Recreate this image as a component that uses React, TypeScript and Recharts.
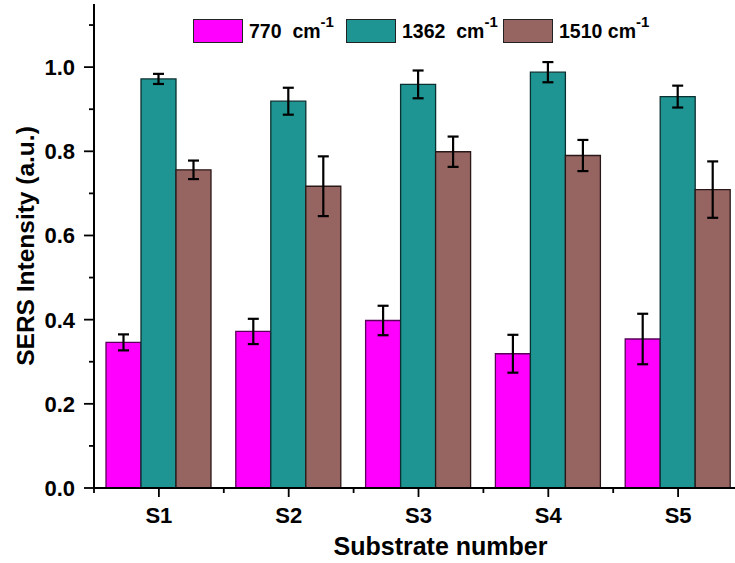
import React from 'react';
import { BarChart, Bar, XAxis, YAxis, ErrorBar, Legend } from 'recharts';

// values
const substrates = ['S1', 'S2', 'S3', 'S4', 'S5'];
const band770 = [0.346, 0.372, 0.398, 0.319, 0.354];
const err770 = [0.019, 0.03, 0.035, 0.045, 0.06];
const band1362 = [0.972, 0.919, 0.959, 0.988, 0.93];
const err1362 = [0.012, 0.032, 0.033, 0.024, 0.026];
const band1510 = [0.756, 0.717, 0.799, 0.79, 0.709];
const err1510 = [0.022, 0.071, 0.036, 0.037, 0.067];
const yTicks = [0, 0.1, 0.2, 0.3, 0.4, 0.5, 0.6, 0.7, 0.8, 0.9, 1.0, 1.1];

const FONT = '"Liberation Sans", Arial, Helvetica, sans-serif';

const series = [
  { key: 'b770', err: 'e770', label: '770', space: '  ', fill: '#ff00ff', stroke: '#5a005a', w: 153 },
  { key: 'b1362', err: 'e1362', label: '1362', space: '  ', fill: '#1e9592', stroke: '#0b3030', w: 157 },
  { key: 'b1510', err: 'e1510', label: '1510', space: ' ', fill: '#966461', stroke: '#2a1818', w: 160 },
];

const data = substrates.map((name, i) => ({
  name,
  b770: band770[i],
  e770: err770[i],
  b1362: band1362[i],
  e1362: err1362[i],
  b1510: band1510[i],
  e1510: err1510[i],
}));

const YTick = (props: any) => {
  const { x, y, payload } = props;
  const v = payload.value;
  const major = Math.round(v * 10) % 2 === 0;
  return (
    <g>
      <line x1={x} x2={x - (major ? 10 : 5)} y1={y} y2={y} stroke="#000" strokeWidth={1.8} />
      {major && (
        <text x={x - 19} y={y} dy="0.36em" textAnchor="end" fontFamily={FONT} fontWeight="bold" fontSize={22} fill="#000">
          {v.toFixed(1)}
        </text>
      )}
    </g>
  );
};

const XTick = (props: any) => {
  const { x, y, payload } = props;
  const half = payload.offset || 65;
  return (
    <g>
      <line x1={x} x2={x} y1={y} y2={y + 9} stroke="#000" strokeWidth={1.8} />
      <line x1={x - half} x2={x - half} y1={y} y2={y + 5} stroke="#000" strokeWidth={1.8} />
      <text x={x} y={y + 35} textAnchor="middle" fontFamily={FONT} fontWeight="bold" fontSize={22} fill="#000">
        {payload.value}
      </text>
    </g>
  );
};

const TopTick = (props: any) => {
  const { x, y } = props;
  return <line x1={x} x2={x} y1={y} y2={y + 4} stroke="#333" strokeWidth={1.2} />;
};

const LegendBox = () => (
  <div style={{ display: 'flex', alignItems: 'center', fontFamily: FONT, fontWeight: 'bold', fontSize: 19.5, color: '#000' }}>
    {series.map(s => (
      <div key={s.key} style={{ display: 'flex', alignItems: 'center', width: s.w }}>
        <div style={{ width: 48, height: 22, background: s.fill, border: '1px solid #222', flex: 'none' }} />
        <span style={{ marginLeft: 6, whiteSpace: 'pre' }}>
          {s.label}{s.space}cm
          <span style={{ fontSize: 15, position: 'relative', top: -11 }}>-1</span>
        </span>
      </div>
    ))}
  </div>
);

export default function App() {
  return (
    <div style={{ position: 'absolute', left: 0, top: 0, width: 735, height: 563, overflow: 'hidden', background: '#fff' }}>
      <BarChart
        width={800}
        height={563}
        data={data}
        margin={{ top: 4, right: 57, bottom: 0, left: 0 }}
        barCategoryGap={12}
        barGap={0}
      >
        <XAxis
          dataKey="name"
          height={75}
          tickLine={false}
          tickSize={0}
          tickMargin={0}
          tick={<XTick />}
          axisLine={{ stroke: '#000', strokeWidth: 2 }}
          label={{ value: 'Substrate number', position: 'insideBottom', offset: 8, dx: 22, fontFamily: FONT, fontWeight: 'bold', fontSize: 25, fill: '#000' }}
        />
        <XAxis
          xAxisId="top"
          dataKey="name"
          orientation="top"
          height={0}
          tickLine={false}
          tickSize={0}
          tick={<TopTick />}
          axisLine={{ stroke: '#333', strokeWidth: 1.5 }}
        />
        <YAxis
          width={94}
          domain={[0, 1.15]}
          ticks={yTicks}
          interval={0}
          tickLine={false}
          tickSize={0}
          tickMargin={0}
          tick={<YTick />}
          axisLine={{ stroke: '#000', strokeWidth: 2 }}
          label={{ value: 'SERS Intensity (a.u.)', angle: -90, position: 'center', dx: -22, fontFamily: FONT, fontWeight: 'bold', fontSize: 24.5, fill: '#000' }}
        />
        <Legend
          layout="horizontal"
          verticalAlign="middle"
          align="center"
          content={<LegendBox />}
          wrapperStyle={{ position: 'absolute', top: 19, left: 193, width: 'auto' }}
        />
        {series.map(s => (
          <Bar key={s.key} dataKey={s.key} fill={s.fill} stroke={s.stroke} strokeWidth={1.3} isAnimationActive={false}>
            <ErrorBar dataKey={s.err} width={5.5} stroke="#000" strokeWidth={2.2} direction="y" />
          </Bar>
        ))}
      </BarChart>
    </div>
  );
}
